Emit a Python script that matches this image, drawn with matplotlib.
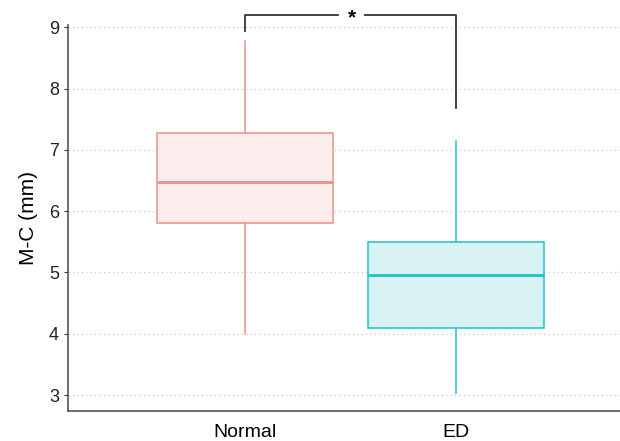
import matplotlib
matplotlib.use("Agg")
import matplotlib.pyplot as plt

plt.rcParams["font.family"] = ["Liberation Sans", "DejaVu Sans"]

groups = ["Normal", "ED"]
whisker_low = [4.00, 3.03]
q1 = [5.80, 4.09]
median = [6.47, 4.96]
q3 = [7.27, 5.49]
whisker_high = [8.77, 7.14]
edge_colors = ["#F08C86", "#1CC3C8"]
fill_colors = ["#FDEDEC", "#D9F3F5"]
y_ticks = [3, 4, 5, 6, 7, 8, 9]
sig_label = "*"

fig = plt.figure(figsize=(6.2, 4.41), dpi=100)
ax = fig.add_axes([0.1097, 0.068, 0.8903, 0.8744])

stats = []
for i, name in enumerate(groups):
    stats.append({
        "label": name, "whislo": whisker_low[i], "q1": q1[i], "med": median[i],
        "q3": q3[i], "whishi": whisker_high[i], "fliers": [],
    })

positions = [1, 2]
for i, st in enumerate(stats):
    ax.bxp([st], positions=[positions[i]], widths=0.835, patch_artist=True,
           showcaps=False, showfliers=False,
           boxprops=dict(facecolor=fill_colors[i], edgecolor=edge_colors[i], linewidth=1.1),
           whiskerprops=dict(color=edge_colors[i], linewidth=1.1),
           medianprops=dict(color=edge_colors[i], linewidth=2.0))

ax.set_xlim(0.16, 2.78)
ax.set_ylim(2.74, 9.03)
ax.set_yticks(y_ticks)
ax.set_xticks(positions)
ax.set_xticklabels(groups, fontsize=14, color="black")
ax.tick_params(axis="y", labelsize=13, length=3, color="#333333", labelcolor="#222222")
ax.tick_params(axis="x", length=0, pad=9)
ax.set_ylabel("M-C (mm)", fontsize=15, labelpad=8)

ax.yaxis.grid(True, linestyle=(0, (1, 3)), color="#BBBBBB", linewidth=0.8)
ax.set_axisbelow(True)
for s in ["top", "right"]:
    ax.spines[s].set_visible(False)
for s in ["left", "bottom"]:
    ax.spines[s].set_color("#555555")
    ax.spines[s].set_linewidth(1.2)

# significance bracket
top = 9.2
ax.plot([1, 1, 1.44], [8.94, top, top], color="#333333", lw=1.3, clip_on=False)
ax.plot([1.57, 2, 2], [top, top, 7.68], color="#333333", lw=1.3, clip_on=False)
ax.text(1.51, top - 0.04, sig_label, ha="center", va="center", fontsize=15,
        fontweight="bold", clip_on=False)

fig.savefig("out.png", dpi=100)
